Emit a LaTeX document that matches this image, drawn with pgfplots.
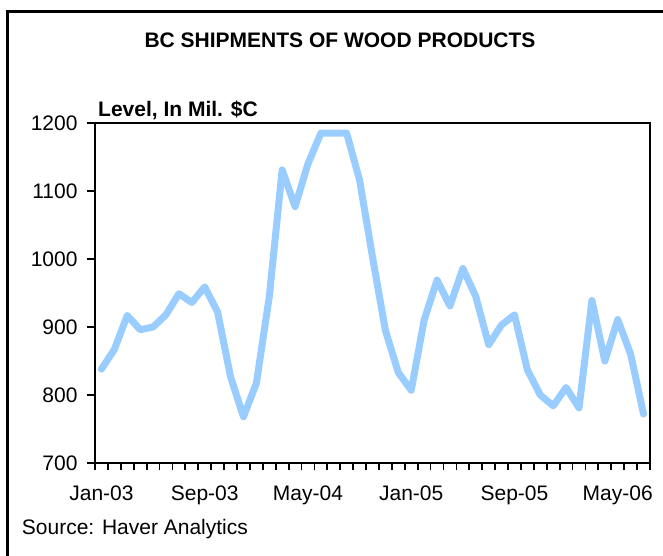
\documentclass[border=0pt]{standalone}
\usepackage{pgfplots}
\pgfplotsset{compat=1.18}
\usepackage{fontspec}
\setmainfont{Liberation Sans}
\definecolor{lineblue}{RGB}{153,204,255}
\begin{document}
\fontsize{21}{25}\selectfont
\begin{tikzpicture}[x=1pt,y=1pt]
\useasboundingbox (0,0) rectangle (663,556);
\draw[line width=2.5pt] (7.5,-5) -- (7.5,544.5) -- (670,544.5);
\node[anchor=base,font=\bfseries] at (340,508) {BC SHIPMENTS OF WOOD PRODUCTS};
\node[anchor=base west,font=\bfseries,inner sep=0pt] at (98,439) {Level, In Mil. \$C};
\node[anchor=base west,inner sep=0pt] at (21.7,21) {Source: Haver Analytics};
\begin{axis}[
  at={(95pt,93pt)}, anchor=south west,
  scale only axis, width=555pt, height=340pt,
  xmin=-0.5, xmax=42.5, ymin=700, ymax=1200,
  line width=2pt,
  tick align=outside,
  tick pos=left,
  xtick={-0.5,0.5,...,42.5},
  xticklabels={Jan-03,,,,,,,,Sep-03,,,,,,,,May-04,,,,,,,,Jan-05,,,,,,,,Sep-05,,,,,,,,May-06,,,},
  xticklabel style={xshift=6.45pt, yshift=-7pt},
  ytick={700,800,900,1000,1100,1200},
  yticklabels={700,800,900,1000,1100,1200},
  major tick length=7.5pt,
  tick style={line width=1.8pt, black},
  tick label style={font=\fontsize{21}{25}\selectfont},
  yticklabel style={xshift=-2pt},
  clip=false,
]
\addplot[color=lineblue, line width=7pt, line join=round, line cap=round] table[x=i,y=v] {
i v
0 838
1 867
2 917
3 896
4 900
5 918
6 949
7 936
8 959
9 922
10 827
11 768
12 817
13 944
14 1131
15 1077
16 1140
17 1185
18 1185
19 1185
20 1116
21 1003
22 895
23 833
24 807
25 910
26 969
27 931
28 986
29 945
30 874
31 903
32 918
33 837
34 800
35 784
36 811
37 781
38 939
39 850
40 911
41 860
42 772
};
\end{axis}
\end{tikzpicture}
\end{document}
